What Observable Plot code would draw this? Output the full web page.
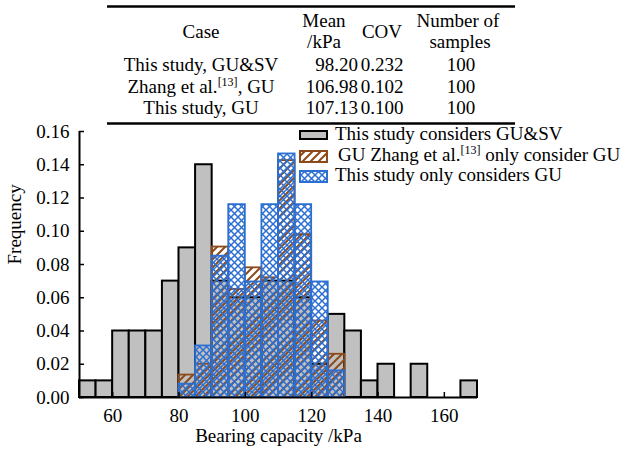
<!DOCTYPE html>
<html>
<head>
<meta charset="utf-8">
<script src="https://cdn.jsdelivr.net/npm/d3@7"></script>
<script src="https://cdn.jsdelivr.net/npm/@observablehq/plot@0.6"></script>
<style>
  html, body { margin: 0; padding: 0; background: white; }
  #chart { width: 634px; height: 456px; }
</style>
</head>
<body>
<div id="chart"></div>
<script>
// ---- Data ----
const binWidth = 5;
const grayBins = [50, 55, 60, 65, 70, 75, 80, 85, 90, 95, 100, 105, 110, 115, 120, 125, 130, 135, 140, 145, 150, 155, 160, 165];
const grayFreq = [0.01, 0.01, 0.04, 0.04, 0.04, 0.07, 0.09, 0.14, 0.07, 0.06, 0.06, 0.07, 0.07, 0.06, 0.02, 0.05, 0.04, 0.01, 0.02, 0, 0.02, 0, 0, 0.01];
const guBins = [80, 85, 90, 95, 100, 105, 110, 115, 120, 125];
const zhangFreq = [0.0135, 0.02, 0.0905, 0.065, 0.078, 0.072, 0.1425, 0.098, 0.046, 0.026];
const studyGuFreq = [0.008, 0.031, 0.085, 0.116, 0.0695, 0.116, 0.1465, 0.116, 0.0695, 0.016];

const xTicks = [60, 80, 100, 120, 140, 160];
const yTicks = [0, 0.02, 0.04, 0.06, 0.08, 0.10, 0.12, 0.14, 0.16];
const xLabel = "Bearing capacity /kPa";
const yLabel = "Frequency";

const legendLabels = ["This study considers GU&SV", "GU Zhang et al.", "This study only considers GU"];

const tableHeader = ["Case", "Mean", "/kPa", "COV", "Number of", "samples"];
const caseNames = ["This study, GU&SV", "Zhang et al.", "This study, GU"];
const meanValues = ["98.20", "106.98", "107.13"];
const covValues = ["0.232", "0.102", "0.100"];
const sampleValues = ["100", "100", "100"];

// ---- Tables for the library ----
const toRows = (bins, vals) => bins.map((b, i) => ({x1: b, x2: b + binWidth, v: vals[i]})).filter(d => d.v > 0);
const grayData = toRows(grayBins, grayFreq);
const zhangData = toRows(guBins, zhangFreq);
const studyData = toRows(guBins, studyGuFreq);

const BROWN = "#8c4a1a";
const BLUE = "#2b6fd3";
const GRAY = "#c0c0c0";
const FONT = "'Liberation Serif', 'Times New Roman', serif";

const plot = Plot.plot({
  width: 634,
  height: 456,
  marginLeft: 79,
  marginRight: 157,
  marginTop: 131,
  marginBottom: 59,
  style: {fontFamily: FONT, fontSize: "19px", color: "black", background: "white", overflow: "visible"},
  x: {domain: [50, 170]},
  y: {domain: [0, 0.16]},
  marks: [
    Plot.rectY(grayData, {x1: "x1", x2: "x2", y: "v", fill: GRAY, stroke: "black", strokeWidth: 2}),
    Plot.rectY(zhangData, {x1: "x1", x2: "x2", y: "v", fill: "url(#hatchBrown)", stroke: BROWN, strokeWidth: 1.8}),
    Plot.rectY(studyData, {x1: "x1", x2: "x2", y: "v", fill: "url(#crossBlue)", stroke: BLUE, strokeWidth: 1.8}),
    Plot.ruleY([0], {stroke: "black", strokeWidth: 2.2}),
    Plot.ruleX([50], {y1: 0, y2: 0.16, stroke: "black", strokeWidth: 2}),
    Plot.axisX({ticks: xTicks, tickSize: -5, tickPadding: 16, tickFormat: d => String(d), label: null, strokeWidth: 1.5, fontSize: 19}),
    Plot.axisY({ticks: yTicks, tickSize: -5, tickPadding: 15, tickFormat: d => d.toFixed(2), label: null, strokeWidth: 1.5, fontSize: 19}),
    Plot.text([xLabel], {frameAnchor: "bottom", dy: 44, text: d => d, fontSize: 19}),
    Plot.text([yLabel], {frameAnchor: "left", dx: -65, rotate: -90, text: d => d, fontSize: 19})
  ]
});

document.getElementById("chart").appendChild(plot);

// ---- Patterns ----
const svg = d3.select(plot);
const defs = svg.insert("defs", ":first-child");
const hb = defs.append("pattern").attr("id", "hatchBrown").attr("patternUnits", "userSpaceOnUse")
  .attr("width", 8).attr("height", 8);
hb.append("path").attr("d", "M0,8 L8,0 M-2,2 L2,-2 M6,10 L10,6")
  .attr("stroke", BROWN).attr("stroke-width", 2).attr("fill", "none");
const cb = defs.append("pattern").attr("id", "crossBlue").attr("patternUnits", "userSpaceOnUse")
  .attr("width", 7).attr("height", 7);
cb.append("path").attr("d", "M0,0 L7,7 M7,0 L0,7")
  .attr("stroke", BLUE).attr("stroke-width", 1.5).attr("fill", "none");

// ---- Table ----
const tg = svg.append("g").attr("font-family", FONT).attr("font-size", 19).attr("fill", "black");
tg.append("line").attr("x1", 107).attr("x2", 515).attr("y1", 6.5).attr("y2", 6.5).attr("stroke", "black").attr("stroke-width", 2.6);
tg.append("line").attr("x1", 107).attr("x2", 515).attr("y1", 123.5).attr("y2", 123.5).attr("stroke", "black").attr("stroke-width", 2.6);

tg.append("text").attr("x", 201).attr("y", 38).attr("text-anchor", "middle").text(tableHeader[0]);
tg.append("text").attr("x", 324).attr("y", 27).attr("text-anchor", "middle").text(tableHeader[1]);
tg.append("text").attr("x", 324).attr("y", 48).attr("text-anchor", "middle").text(tableHeader[2]);
tg.append("text").attr("x", 382).attr("y", 38).attr("text-anchor", "middle").text(tableHeader[3]);
tg.append("text").attr("x", 458).attr("y", 26.5).attr("text-anchor", "middle").text(tableHeader[4]);
tg.append("text").attr("x", 460).attr("y", 47.5).attr("text-anchor", "middle").text(tableHeader[5]);

const rowY = [71, 92.5, 114];
caseNames.forEach((c, i) => {
  const t = tg.append("text").attr("x", 201).attr("y", rowY[i]).attr("text-anchor", "middle");
  if (i === 1) {
    t.append("tspan").text(c);
    t.append("tspan").attr("font-size", 12).attr("dy", -7).text("[13]");
    t.append("tspan").attr("font-size", 19).attr("dy", 7).text(", GU");
  } else {
    t.text(c);
  }
  tg.append("text").attr("x", 358).attr("y", rowY[i]).attr("text-anchor", "end").text(meanValues[i]);
  tg.append("text").attr("x", 382).attr("y", rowY[i]).attr("text-anchor", "middle").text(covValues[i]);
  tg.append("text").attr("x", 461).attr("y", rowY[i]).attr("text-anchor", "middle").text(sampleValues[i]);
});

// ---- Legend ----
const lg = svg.append("g").attr("font-family", FONT).attr("font-size", 19).attr("fill", "black").attr("text-anchor", "start");
const sw = [
  {y: 131, h: 8, fill: GRAY, stroke: "black"},
  {y: 151, h: 11, fill: "url(#hatchBrown)", stroke: BROWN},
  {y: 171, h: 11, fill: "url(#crossBlue)", stroke: BLUE}
];
const textY = [139.5, 160.5, 181];
sw.forEach((s, i) => {
  lg.append("rect").attr("x", 300).attr("y", s.y).attr("width", 27).attr("height", s.h)
    .attr("fill", i === 0 ? s.fill : "white").attr("stroke", s.stroke).attr("stroke-width", 2);
  if (i > 0) lg.append("rect").attr("x", 300).attr("y", s.y).attr("width", 27).attr("height", s.h)
    .attr("fill", s.fill).attr("stroke", s.stroke).attr("stroke-width", 2);
  const t = lg.append("text").attr("x", i === 1 ? 338 : 335).attr("y", textY[i]).attr("text-anchor", "start");
  if (i === 1) {
    t.append("tspan").text(legendLabels[i]);
    t.append("tspan").attr("font-size", 12).attr("dy", -7).text("[13]");
    t.append("tspan").attr("font-size", 19).attr("dy", 7).text(" only consider GU");
  } else {
    t.text(legendLabels[i]);
  }
});
</script>
</body>
</html>
